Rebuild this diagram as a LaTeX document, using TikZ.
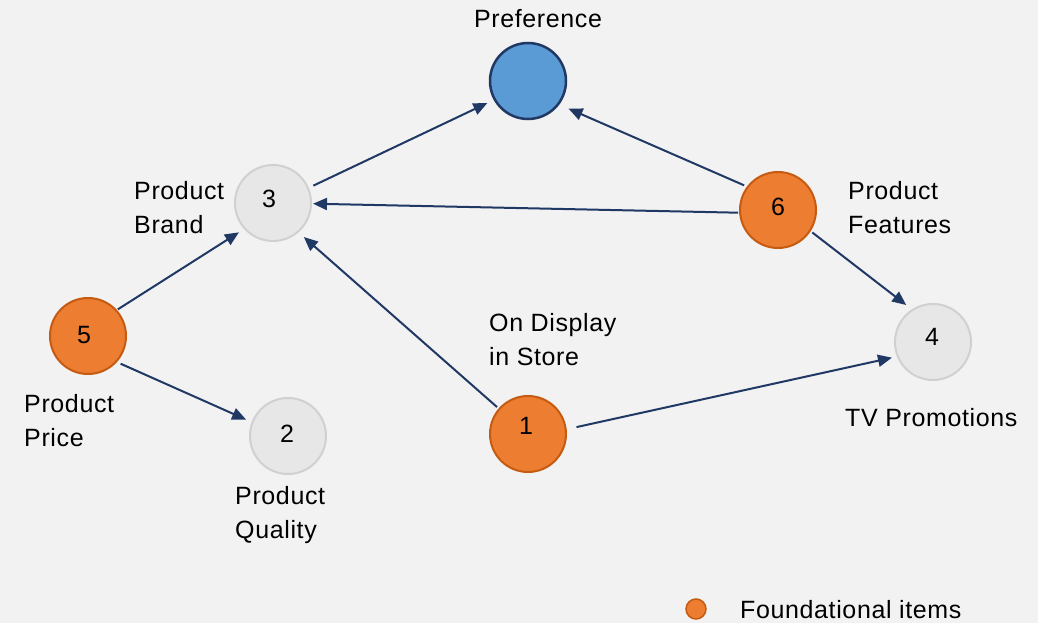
\documentclass[tikz,border=0pt]{standalone}
\usepackage{fontspec}
\setmainfont[LetterSpace=2.5]{Liberation Sans}
\usetikzlibrary{arrows.meta}
\definecolor{bgc}{HTML}{F2F2F2}
\definecolor{orangef}{HTML}{ED7D31}
\definecolor{oranged}{HTML}{C55A11}
\definecolor{bluef}{HTML}{5B9BD5}
\definecolor{navy}{HTML}{203864}
\definecolor{grayf}{HTML}{E7E7E7}
\definecolor{grayd}{HTML}{D0D0D0}
\begin{document}
\begin{tikzpicture}[x=1pt,y=-1pt,
  txt/.style={font=\fontsize{25}{34}\selectfont, inner sep=0pt, align=left},
  num/.style={font=\fontsize{25}{28}\selectfont, inner sep=0pt},
  found/.style={circle, minimum size=76pt, inner sep=0pt, fill=orangef, draw=oranged, line width=2pt},
  other/.style={circle, minimum size=76pt, inner sep=0pt, fill=grayf, draw=grayd, line width=2pt},
  target/.style={circle, minimum size=76pt, inner sep=0pt, fill=bluef, draw=navy, line width=2.5pt},
  link/.style={draw=navy, line width=2pt, -{Triangle[length=14pt,width=12pt]}}]
\fill[bgc] (0,0) rectangle (1038,623);
\useasboundingbox (0,0) rectangle (1038,623);
\node[target] (pref) at (528,81) {};
\node[other] (n3) at (273,203) {};
\node[found] (n6) at (778,210) {};
\node[found] (n5) at (88,336) {};
\node[other] (n2) at (288,436) {};
\node[found] (n1) at (528,434) {};
\node[other] (n4) at (933,342) {};
\node[num] (t3) at (269,199) {3};
\node[num] (t6) at (778,207) {6};
\node[num] (t5) at (84,335) {5};
\node[num] (t2) at (287,434) {2};
\node[num] (t1) at (526,426) {1};
\node[num] (t4) at (932,337) {4};
\node[txt, anchor=center] (lpref) at (538,19) {Preference};
\node[txt, anchor=west] (l3) at (134,208) {Product\\Brand};
\node[txt, anchor=west] (l6) at (848,208) {Product\\Features};
\node[txt, anchor=west] (l1) at (489,340) {On Display\\in Store};
\node[txt, anchor=west] (l4) at (845,418) {TV Promotions};
\node[txt, anchor=west] (l5) at (24,421) {Product\\Price};
\node[txt, anchor=west] (l2) at (235,515) {Product\\Quality};
\node[circle, minimum size=20pt, inner sep=0pt, fill=orangef, draw=oranged, line width=1.5pt] (leg) at (696,609) {};
\node[txt, anchor=west] (legt) at (740,610) {Foundational items};
\draw[link, shorten <=5pt, shorten >=7pt] (n3.23) -- (pref.209);
\draw[link, shorten <=3pt, shorten >=10pt] (n6.143) -- (pref.-37);
\draw[link, shorten <=1pt, shorten >=1pt] (n6.184) -- (n3.-1);
\draw[link, shorten <=2pt, shorten >=7pt] (n6.-33) -- (n4.123);
\draw[link, shorten <=1pt, shorten >=6pt] (n5.42) -- (n3.222);
\draw[link, shorten <=4pt, shorten >=6pt] (n5.-42) -- (n2.159);
\draw[link, shorten <=2pt, shorten >=7pt] (n1.139) -- (n3.-49);
\draw[link, shorten <=10pt, shorten >=5pt] (n1.7) -- (n4.202);
\end{tikzpicture}
\end{document}
